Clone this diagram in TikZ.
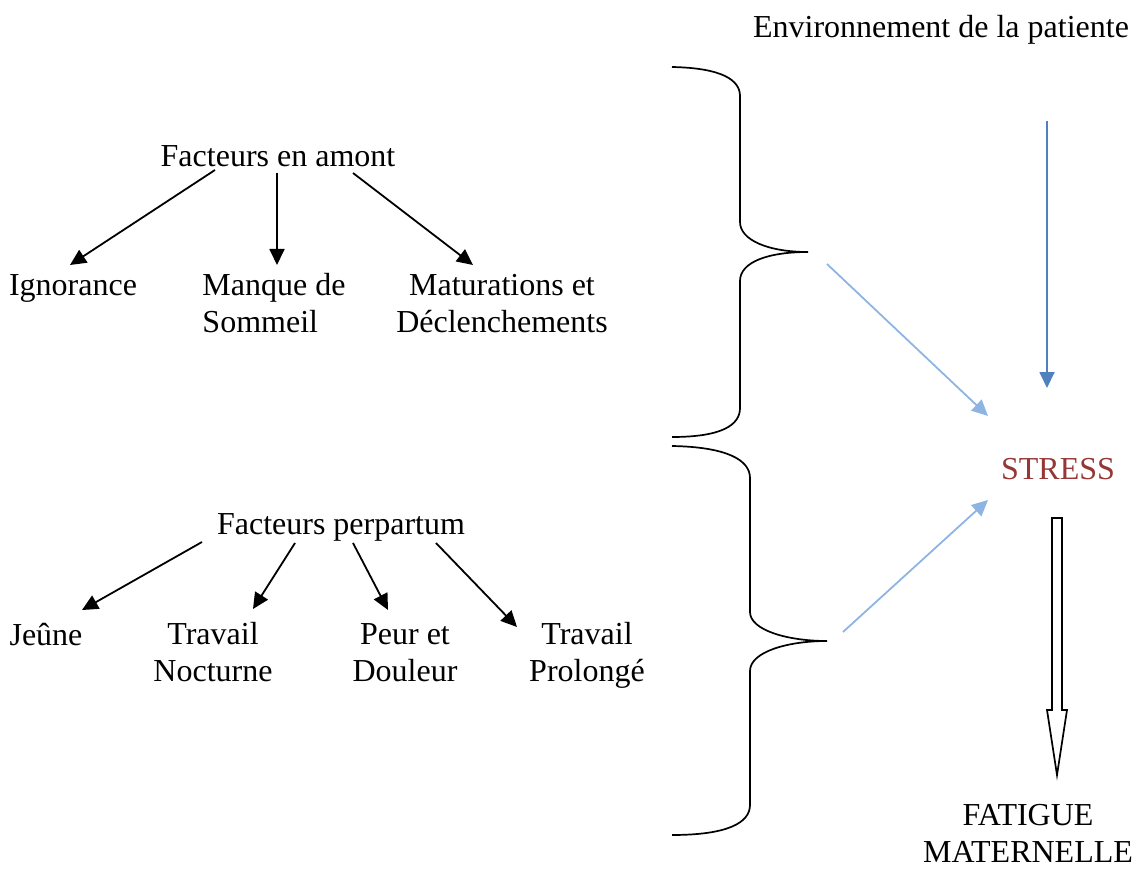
\documentclass[tikz,border=0pt]{standalone}
\usepackage{fontspec}
\setmainfont{Liberation Serif}
\usetikzlibrary{arrows.meta}
\definecolor{lightblue}{HTML}{8EB4E3}
\definecolor{midblue}{HTML}{4F81BD}
\definecolor{stressred}{HTML}{953735}
\tikzset{
  lbl/.style={inner sep=0pt, anchor=base, font=\fontsize{32}{37}\selectfont},
  mlbl/.style={lbl, align=center},
  blackarrow/.style={line width=1.8pt, -{Triangle[length=16pt,width=15pt]}},
  lightarrow/.style={line width=1.8pt, draw=lightblue, -{Triangle[length=16pt,width=15pt,fill=lightblue]}},
  bluearrow/.style={line width=1.8pt, draw=midblue, -{Triangle[length=16pt,width=15pt,fill=midblue]}},
  brace/.style={line width=1.7pt},
  hollow/.style={line width=1.7pt, fill=white},
}
\begin{document}
\begin{tikzpicture}[x=1pt,y=-1pt]
\useasboundingbox (0,0) rectangle (1144,869);

% text nodes (multi-line nodes are placed by the baseline of their last line)
\node[lbl] (env) at (941,38) {Environnement de la patiente};
\node[lbl] (amont) at (278,167) {Facteurs en amont};
\node[lbl] (ign) at (73,295) {Ignorance};
\node[lbl, align=left] (manque) at (274,332) {Manque de\\Sommeil};
\node[mlbl] (matur) at (502,332) {Maturations et\\Déclenchements};
\node[lbl] (perp) at (341,534) {Facteurs perpartum};
\node[lbl] (jeune) at (46,645) {Jeûne};
\node[mlbl] (noct) at (213,681) {Travail\\Nocturne};
\node[mlbl] (peur) at (405,681) {Peur et\\Douleur};
\node[mlbl] (prol) at (587,681) {Travail\\Prolongé};
\node[lbl, text=stressred] (stress) at (1058,479) {STRESS};
\node[mlbl] (fatigue) at (1028,862) {FATIGUE\\MATERNELLE};

% arrow end points
\coordinate (a1s) at (215,170); \coordinate (a1e) at (70,265);
\coordinate (a2s) at (277,173); \coordinate (a2e) at (277,265);
\coordinate (a3s) at (353,173); \coordinate (a3e) at (473,265);
\coordinate (b1s) at (202,542); \coordinate (b1e) at (82,610);
\coordinate (b2s) at (295,543); \coordinate (b2e) at (253,609);
\coordinate (b3s) at (353,543); \coordinate (b3e) at (388,610);
\coordinate (b4s) at (436,543); \coordinate (b4e) at (517,627);
\coordinate (tip1) at (808,252);
\coordinate (tip2) at (827,641);

% black arrows
\draw[blackarrow] (a1s) -- (a1e);
\draw[blackarrow] (a2s) -- (a2e);
\draw[blackarrow] (a3s) -- (a3e);
\draw[blackarrow] (b1s) -- (b1e);
\draw[blackarrow] (b2s) -- (b2e);
\draw[blackarrow] (b3s) -- (b3e);
\draw[blackarrow] (b4s) -- (b4e);

% braces
\draw[brace] (672,67) .. controls (722,68) and (740,80) .. (740,96) -- (740,222)
  .. controls (740,240) and (768,252) .. (tip1)
  .. controls (768,252) and (740,262) .. (740,281) -- (740,408)
  .. controls (740,425) and (722,437) .. (672,437);
\draw[brace] (672,446) .. controls (727,447) and (750,460) .. (750,478) -- (750,612)
  .. controls (750,630) and (787,641) .. (tip2)
  .. controls (787,641) and (750,652) .. (750,671) -- (750,805)
  .. controls (750,823) and (727,835) .. (672,835);

% blue arrows to STRESS
\coordinate (l1s) at (827,264); \coordinate (l1e) at (988,416);
\coordinate (l2s) at (843,632); \coordinate (l2e) at (988,500);
\coordinate (envs) at (1047,121); \coordinate (enve) at (1047,388);
\draw[lightarrow] (l1s) -- (l1e);
\draw[lightarrow] (l2s) -- (l2e);
\draw[bluearrow] (envs) -- (enve);

% hollow block arrow STRESS -> FATIGUE
\draw[hollow] (1052,518) -- (1062,518) -- (1062,710) -- (1067,710) -- (1057,775)
  -- (1047,710) -- (1052,710) -- cycle;
\end{tikzpicture}
\end{document}
